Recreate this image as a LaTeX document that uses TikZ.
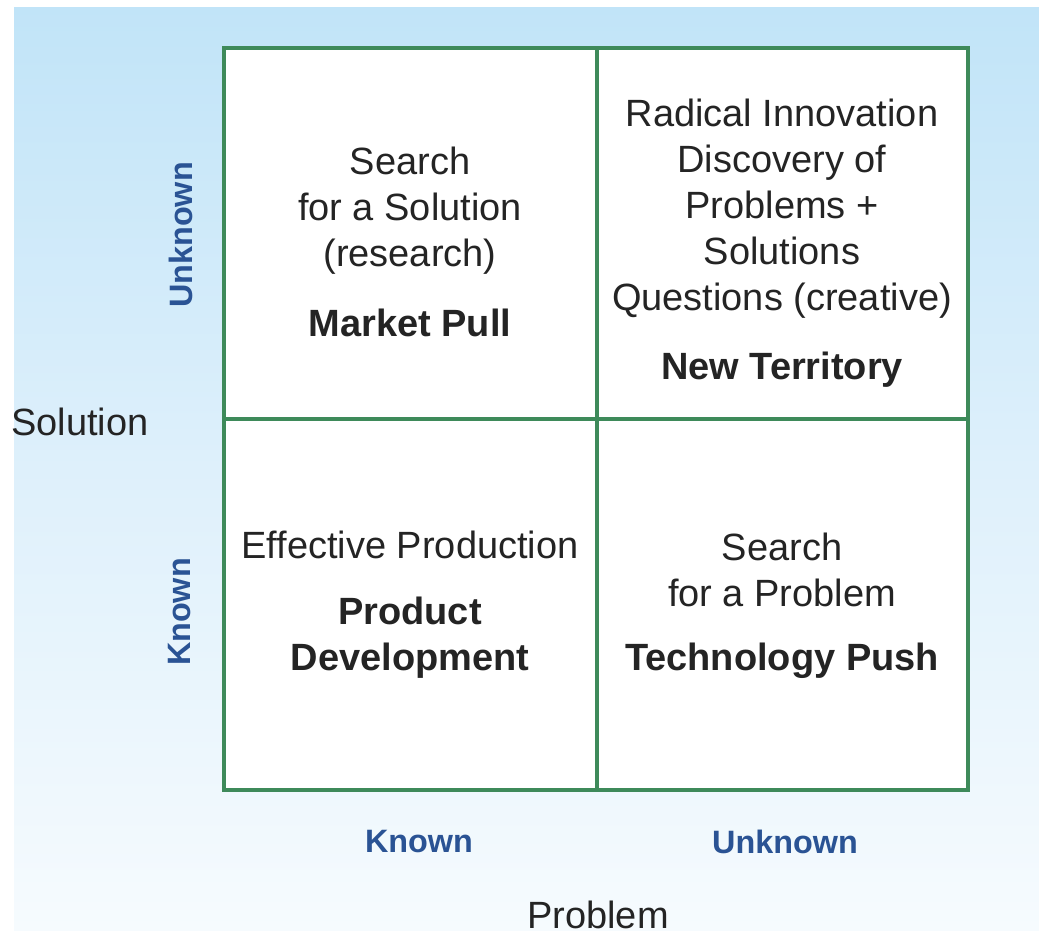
\documentclass[tikz,border=0pt]{standalone}
\usepackage{fontspec}
\setmainfont{Liberation Sans}
\definecolor{bgtop}{RGB}{193,228,248}
\definecolor{bgmid}{RGB}{222,240,251}
\definecolor{bgbot}{RGB}{246,251,254}
\definecolor{gridgreen}{RGB}{62,138,90}
\definecolor{axisblue}{RGB}{42,83,148}
\definecolor{textdark}{RGB}{36,36,36}
\begin{document}
\begin{tikzpicture}[x={(0.01cm,0)}, y={(0,-0.01cm)},
    celltext/.style={align=center, inner sep=0pt, text=textdark,
        font=\fontsize{10.8}{13.1}\selectfont},
    cellhead/.style={celltext, font=\fontsize{10.8}{13.1}\selectfont\bfseries},
    axislabel/.style={inner sep=0pt, text=axisblue,
        font=\fontsize{9.2}{11}\selectfont\bfseries},
    axistitle/.style={inner sep=0pt, text=textdark,
        font=\fontsize{10.8}{13}\selectfont},
    grid line/.style={draw=gridgreen, line width=0.9pt}]
\useasboundingbox (0,0) rectangle (1039,936);
\fill[top color=bgtop, bottom color=bgbot, middle color=bgmid] (14,7) rectangle (1039,930);
% the four cells
\fill[white] (224,48) rectangle (968,790);
\draw[grid line] (224,48) rectangle (968,790);
\draw[grid line] (597,48) -- (597,790);
\draw[grid line] (224,419) -- (968,419);
% top left
\node[celltext] (mpull) at (410,211) {Search\\for a Solution\\(research)};
\node[cellhead] (mpullh) at (410,323) {Market Pull};
% top right
\node[celltext] (newter) at (782,209) {Radical Innovation\\Discovery of\\Problems +\\Solutions\\Questions (creative)};
\node[cellhead] (newterh) at (782,370) {New Territory};
% bottom left
\node[celltext] (proddev) at (410,545) {Effective Production};
\node[cellhead] (proddevh) at (410,638) {Product\\Development};
% bottom right
\node[celltext] (techpush) at (782,570) {Search\\for a Problem};
\node[cellhead] (techpushh) at (782,661) {Technology Push};
% axes
\node[axislabel, rotate=90] (solunk) at (181,235) {Unknown};
\node[axislabel, rotate=90] (solknown) at (180,612) {Known};
\node[axislabel] (probknown) at (419,842) {Known};
\node[axislabel] (probunk) at (785,842) {Unknown};
\node[axistitle] (soltitle) at (80,422) {Solution};
\node[axistitle] (probtitle) at (598,915) {Problem};
\end{tikzpicture}
\end{document}
